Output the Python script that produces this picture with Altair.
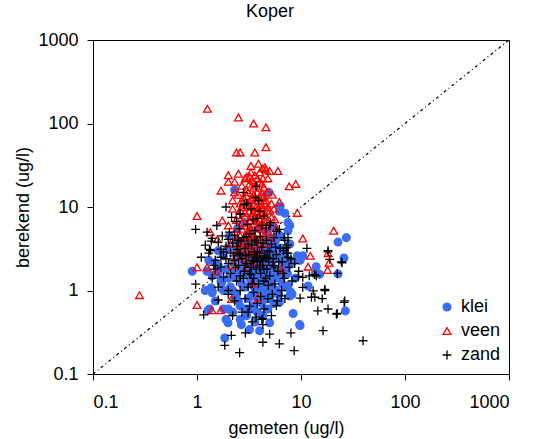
import altair as alt
import pandas as pd

categories = ["klei", "veen", "zand"]

klei_x = [0.9, 2.3, 4.9, 6.2, 7.5, 6.3, 7.0, 22.7, 27.3, 25.9, 22.7, 26.7, 9.7, 1.85, 1.99, 2.67, 3.2, 4.0, 5.0, 8.4,
          1.32, 1.37, 1.4, 14, 15.1, 11.7, 9.4, 10.4, 7.5, 7.8, 6.2, 3.45, 2.98, 2.0, 2.3, 1.5, 1.72, 7.8, 9.8, 13.7, 9.8, 8.2,
          1.4, 1.6, 1.7, 1.8, 1.9, 2.0, 2.1, 2.2, 2.3, 2.4, 2.5, 2.6, 2.7, 2.8, 2.9, 3.0, 3.1, 3.2, 3.3, 3.4, 3.5, 3.6,
          3.7, 3.8, 3.9, 4.0, 4.1, 4.2, 4.3, 4.4, 4.5, 4.6, 4.8, 5.0, 5.2, 5.4, 5.6, 5.8, 6.0, 6.3, 6.6, 7.0, 7.4, 7.8,
          8.3, 8.8, 1.5, 1.8, 2.2, 2.6, 3.0, 3.4, 3.8, 4.3, 4.8, 5.5, 2.05, 2.45, 2.85, 3.3, 4.0, 4.7, 5.3, 5.7, 6.5,
          1.6, 1.3, 1.2, 1.25, 3.6, 3.0, 2.4, 4.9, 5.9, 6.8, 2.75, 3.55, 4.25, 2.35, 3.15, 3.95, 4.65, 5.1, 6.1, 7.2,
          8.0, 9.2, 1.9, 2.6, 3.6, 4.6, 5.5, 7.5,
          2.2, 2.5, 2.8, 3.1, 3.4, 3.7, 4.0, 4.3, 4.6, 4.9, 5.2, 5.5, 2.3, 2.6, 2.9, 3.2, 3.5, 3.8, 4.1, 4.4, 4.7,
          5.0, 5.3, 2.0, 1.8, 1.6, 2.7, 3.0, 3.3, 4.2, 4.5, 5.0, 5.6, 6.2, 6.6, 7.0, 7.6, 3.9, 2.5, 3.3, 4.4, 1.4,
          1.28, 5.8, 6.4]
klei_y = [1.7, 16, 15, 8.9, 6.5, 10.2, 8.4, 3.8, 4.3, 2.45, 1.58, 0.57, 0.39, 0.27, 0.41, 0.39, 0.34, 0.33, 0.41, 0.53,
          0.6, 1.08, 0.94, 1.93, 1.56, 1.13, 2.36, 2.6, 1.13, 0.86, 0.72, 0.65, 0.6, 0.6, 0.79, 2.15, 1.23, 6.0, 2.3, 1.6, 0.38, 0.9,
          1.5, 2.0, 1.3, 2.6, 1.8, 3.2, 1.1, 2.2, 1.5, 0.9, 2.8, 1.9, 1.2, 3.5, 2.4, 1.6, 0.8, 2.0, 2.9, 1.3, 4.0, 1.8,
          2.5, 1.0, 3.1, 1.5, 2.2, 0.7, 1.9, 3.6, 1.2, 2.7, 1.6, 2.1, 0.9, 3.0, 1.4, 2.4, 1.8, 4.5, 1.2, 2.9, 1.6, 3.6,
          2.2, 1.4, 0.75, 0.6, 0.55, 0.65, 0.5, 0.6, 0.55, 0.5, 0.6, 0.7, 4.5, 5.5, 6.5, 5.0, 5.5, 4.8, 5.8, 4.0, 3.2,
          3.0, 2.3, 1.0, 1.7, 3.3, 3.8, 4.0, 3.3, 5.0, 2.1, 1.6, 1.1, 1.35, 2.9, 2.6, 2.0, 1.0, 1.2, 0.9, 1.1,
          0.95, 2.6, 0.45, 0.45, 0.42, 0.8, 2.5, 5.2,
          1.0, 1.4, 1.8, 2.3, 2.6, 1.4, 1.8, 2.5, 2.0, 1.7, 2.3, 1.6, 1.7, 2.4, 1.1, 1.4, 0.9, 1.6, 1.1, 1.5, 1.3,
          0.8, 1.1, 1.4, 1.0, 1.6, 3.1, 2.8, 3.4, 2.9, 3.3, 4.0, 3.5, 2.6, 1.7, 2.3, 2.0, 0.75, 0.75, 0.85, 0.9, 1.0,
          0.58, 1.0, 1.4]

veen_x = [0.28, 1.26, 2.5, 3.5, 4.6, 4.6, 2.4, 2.6, 3.6, 3.3, 3.9, 4.3, 4.6, 5.0, 6.0, 2.0, 2.5, 3.0, 2.0, 2.3,
          1.7, 7.7, 8.9, 2.3, 6.2, 9.2, 1.0, 1.75, 1.34, 1.57, 20.6, 10.4, 12.3, 18.2, 18.6, 18.0, 11.7, 1.0, 1.25, 1.5,
          3.4, 1.0, 1.39, 1.69, 2.15, 3.86, 6.5, 5.6, 5.8,
          2.2, 2.5, 2.8, 3.0, 3.2, 3.4, 3.6, 3.8, 4.0, 4.2, 4.4, 3.1, 3.3, 3.5, 3.7, 3.9, 4.1, 4.3, 4.6, 4.8, 5.0,
          2.6, 2.9, 3.2, 3.4, 3.6, 3.8, 4.0, 4.2, 4.5, 2.4, 2.7, 3.0, 3.3, 3.5, 3.9, 4.3, 4.7, 5.2, 2.3, 2.6, 2.9,
          3.2, 3.6, 4.0, 4.4, 2.1, 2.5, 2.8, 3.1, 3.4, 3.7, 4.1, 2.4, 2.9, 3.3, 3.8, 2.2, 3.0, 4.5, 3.5, 2.9, 3.3,
          4.5, 4.8, 5.3, 2.7, 2.2, 4.9, 5.5, 3.6, 4.2, 3.0, 2.0, 2.35,
          2.7, 3.0, 3.3, 3.6, 3.9, 4.2, 4.5, 2.8, 3.4, 3.8, 4.1, 4.4, 3.1, 2.6, 3.7, 4.0, 4.3, 3.5, 3.2, 2.9,
          3.2, 3.5, 3.8, 4.1, 4.4, 4.7, 2.5, 3.0, 3.4, 3.8, 4.2, 2.7, 3.1, 2.6, 3.0, 3.6, 4.6, 5.1, 4.8, 5.2]
veen_y = [0.88, 150, 118, 100, 90, 52, 45, 45, 45, 31, 33, 29, 28, 27, 27, 24, 25, 23, 20, 20,
          15.7, 17.7, 18.9, 15, 11.5, 8.5, 7.8, 6.9, 5.0, 4.1, 5.2, 4.2, 2.6, 2.8, 2.15, 1.76, 1.93, 1.9, 1.9, 1.7,
          1.21, 0.67, 0.58, 0.58, 0.79, 0.82, 1.76, 7.1, 5.6,
          12, 14, 13, 16, 19, 21, 24, 22, 26, 19, 17, 11, 12.5, 14, 10, 12, 11, 13, 12, 10, 9,
          9, 8.5, 9, 8, 7.5, 8.8, 7, 9.5, 8, 7, 6.5, 6, 5.5, 6.3, 5.8, 6.2, 6.8, 7.5, 5, 4.5, 4.2,
          4.8, 4.4, 4.0, 4.6, 3.6, 3.2, 3.8, 3.3, 3.0, 3.6, 3.2, 2.6, 2.4, 2.7, 2.2, 2.0, 1.9, 2.5, 17, 22, 26,
          30, 22, 14, 18, 9.5, 5, 9.5, 12, 15, 13.5, 6, 4.0,
          10, 10.5, 10, 9, 9.8, 10.5, 11, 11.5, 13, 15, 14, 13.5, 15, 11, 18, 20, 22, 20, 23, 7.5,
          7, 8.5, 6.7, 8.3, 7, 9, 8, 4.6, 4.2, 4.9, 5.5, 5.5, 5.2, 3.6, 3.0, 2.9, 3.6, 4.3, 15, 11]

zand_x = [0.97, 0.97, 1.16, 1.85, 2.57, 2.14, 2.92, 4.3, 6.2, 8.6, 8.0, 5.0, 16.3, 39.5, 21.9, 26.3, 18.2, 14.5, 16.9, 13.1,
          12.6, 10.4, 9.4, 10.4, 18.9, 24.4, 18.2, 14.0, 13.5, 12.0, 7.2, 7.5, 5.8, 6.9, 5.0, 3.7, 2.83, 3.8, 2.6, 2.0,
          1.37, 1.32, 1.7, 1.5, 6.5, 5.8, 5.2, 4.3, 4.3, 3.4, 2.2, 1.6, 2.0, 22.3, 26.0, 9.8, 13.6, 16.0, 11.4, 18.2,
          24.8, 22.3, 7.5, 7.5, 17.0,
          1.2, 1.3, 1.4, 1.35, 1.5, 1.6, 1.7, 1.75, 1.8, 1.9, 2.0, 2.05, 2.1, 2.2, 2.25, 2.3, 2.4, 2.45, 2.5, 2.55,
          2.6, 2.65, 2.7, 2.8, 2.85, 2.9, 3.0, 3.05, 3.1, 3.15, 3.2, 3.3, 3.35, 3.4, 3.45, 3.5, 3.55, 3.6, 3.7, 3.75,
          3.8, 3.9, 4.0, 4.05, 4.1, 4.2, 4.3, 4.4, 4.5, 4.6, 4.7, 4.8, 4.9, 5.0, 5.2, 5.4, 5.6, 5.8, 6.0, 6.3, 6.6,
          6.9, 7.3, 7.7, 8.2, 8.7, 9.5, 2.0, 2.3, 2.6, 2.9, 3.2, 3.5, 3.8, 4.1, 4.4, 4.8, 5.3, 5.9, 6.5, 7.0, 3.1,
          3.7, 4.2, 2.7, 1.6, 1.4, 1.25, 1.55, 2.15, 2.6, 3.3, 3.9, 4.4, 5.1, 1.9, 2.4, 3.0, 3.65, 2.8, 4.0, 1.1,
          1.45, 1.8, 2.35, 2.95, 3.6, 4.25, 4.65, 5.5, 6.2, 7.0, 3.3, 2.55, 4.85, 5.7, 6.8, 8.0,
          2.3, 2.6, 2.9, 3.2, 3.5, 3.8, 4.1, 4.4, 4.7, 5.0, 2.1, 2.4, 2.8, 3.1, 3.4, 3.7, 4.0, 4.3, 4.6, 5.4,
          1.9, 1.7, 2.5, 3.0, 3.6, 4.2, 5.6, 6.1, 6.7, 7.5]
zand_y = [5.4, 1.19, 0.51, 0.22, 0.18, 0.29, 0.31, 0.24, 0.23, 0.19, 0.31, 0.3, 0.33, 0.25, 0.52, 0.75, 0.6, 0.57, 1.03, 0.99,
          0.83, 1.09, 1.48, 1.44, 2.36, 2.2, 2.9, 1.5, 1.55, 1.5, 3.25, 4.3, 5.1, 4.3, 6.0, 17.7, 10.7, 7.3, 8.3, 4.1,
          3.9, 3.1, 2.5, 1.8, 0.86, 0.66, 0.5, 0.46, 0.39, 0.42, 0.5, 0.77, 1.0, 0.53, 0.72, 0.81, 0.83, 0.8, 3.2, 3.0,
          2.15, 1.6, 3.5, 2.8, 1.0,
          3.5, 2.8, 4.2, 3.0, 2.3, 3.8, 1.9, 4.5, 2.9, 3.4, 2.1, 5.0, 1.6, 3.7, 2.6, 4.6, 1.3, 3.1, 2.0, 5.5,
          1.5, 3.9, 2.4, 4.3, 1.7, 3.2, 2.1, 6.2, 1.1, 2.7, 4.8, 1.9, 3.5, 2.3, 7.0, 1.4, 2.9, 5.2, 1.8, 3.8,
          2.2, 1.2, 2.8, 4.4, 1.6, 3.3, 2.0, 1.3, 2.6, 5.6, 1.8, 3.0, 2.2, 1.5, 3.6, 2.0, 1.2, 2.7, 1.7, 3.2, 2.2,
          1.4, 2.8, 1.9, 1.3, 2.1, 1.7, 0.9, 0.75, 1.0, 0.8, 0.65, 0.95, 0.7, 0.85, 0.6, 0.8, 0.9, 0.75, 1.0, 0.8, 0.55,
          0.48, 0.45, 0.55, 1.1, 1.4, 5.0, 6.0, 7.5, 8.3, 9.5, 12, 7.8, 6.5, 10, 6.7, 11, 13, 15, 9.0, 2.5,
          2.0, 1.45, 1.9, 2.6, 2.5, 2.4, 4.0, 4.3, 5.4, 4.0, 1.55, 2.8, 1.15, 3.3, 3.0, 2.4,
          2.3, 2.7, 2.0, 1.6, 2.2, 2.9, 2.3, 1.8, 2.5, 2.9, 2.8, 3.4, 1.4, 3.6, 1.2, 2.6, 1.9, 3.7, 1.4, 2.4,
          2.4, 3.1, 4.0, 4.4, 4.0, 6.0, 1.9, 2.2, 1.6, 2.5]

diag_vals = [0.1, 1000]
tick_vals = [0.1, 1, 10, 100, 1000]

colors = ["#3a6cf4", "#ff0000", "#000000"]
fills = ["#3a6cf4", "transparent", "transparent"]
plus_path = "M-1.15,0L1.15,0M0,-1.15L0,1.15"
shapes = ["circle", "triangle-up", plus_path]

rows = []
for name, xs, ys in [("klei", klei_x, klei_y), ("veen", veen_x, veen_y), ("zand", zand_x, zand_y)]:
    for a, b in zip(xs, ys):
        rows.append({"gemeten": a, "berekend": b, "type": name})
df = pd.DataFrame(rows)
diag = pd.DataFrame({"gemeten": diag_vals, "berekend": diag_vals})

FONT = "Liberation Sans"
xscale = alt.Scale(type="log", domain=[0.1, 1000], nice=False)
yscale = alt.Scale(type="log", domain=[0.1, 1000], nice=False)

xaxis = alt.Axis(values=tick_vals, format="~g", title="gemeten (ug/l)",
                 titleX=193, titleY=59, titleBaseline="alphabetic", titleAlign="center",
                 labelPadding=13)
yaxis = alt.Axis(values=tick_vals, format="~g", title="berekend (ug/l)",
                 titleX=-65, titleY=167, titleBaseline="alphabetic", titleAlign="center",
                 titleAngle=270, labelPadding=9)

line = alt.Chart(diag).mark_line(color="black", strokeWidth=1.2, strokeDash=[3, 3, 1, 3]).encode(
    x=alt.X("gemeten:Q", scale=xscale, axis=xaxis),
    y=alt.Y("berekend:Q", scale=yscale, axis=yaxis),
)

points = alt.Chart(df).mark_point(filled=True, size=60, strokeWidth=1.3, opacity=1).encode(
    x=alt.X("gemeten:Q", scale=xscale, axis=xaxis),
    y=alt.Y("berekend:Q", scale=yscale, axis=yaxis),
    shape=alt.Shape("type:N", scale=alt.Scale(domain=categories, range=shapes), title=None),
    stroke=alt.Stroke("type:N", scale=alt.Scale(domain=categories, range=colors), title=None),
    fill=alt.Fill("type:N", scale=alt.Scale(domain=categories, range=fills), title=None),
)

chart = (
    alt.layer(line, points)
    .properties(
        width=416, height=334,
        title=alt.TitleParams("Koper", font=FONT, fontSize=18, fontWeight="normal", color="black",
                              anchor="middle", dx=-31, offset=10),
        padding={"left": 93, "top": 40, "right": 29, "bottom": 65},
        autosize=alt.AutoSizeParams(type="none"),
        background="white",
    )
    .configure_view(stroke="black", strokeWidth=1)
    .configure_axis(
        grid=False, domain=False, tickColor="black", tickSize=6, tickWidth=1,
        labelFont=FONT, labelFontSize=18, labelColor="black",
        titleFont=FONT, titleFontSize=18, titleFontWeight="normal", titleColor="black",
    )
    .configure_legend(
        orient="none", legendX=345, legendY=258, padding=0,
        labelFont=FONT, labelFontSize=18, labelColor="black", labelOffset=5,
        symbolSize=60, symbolStrokeWidth=1.3, rowPadding=6,
    )
)

chart.save("out.html", embed_options={"renderer": "svg", "actions": False})
